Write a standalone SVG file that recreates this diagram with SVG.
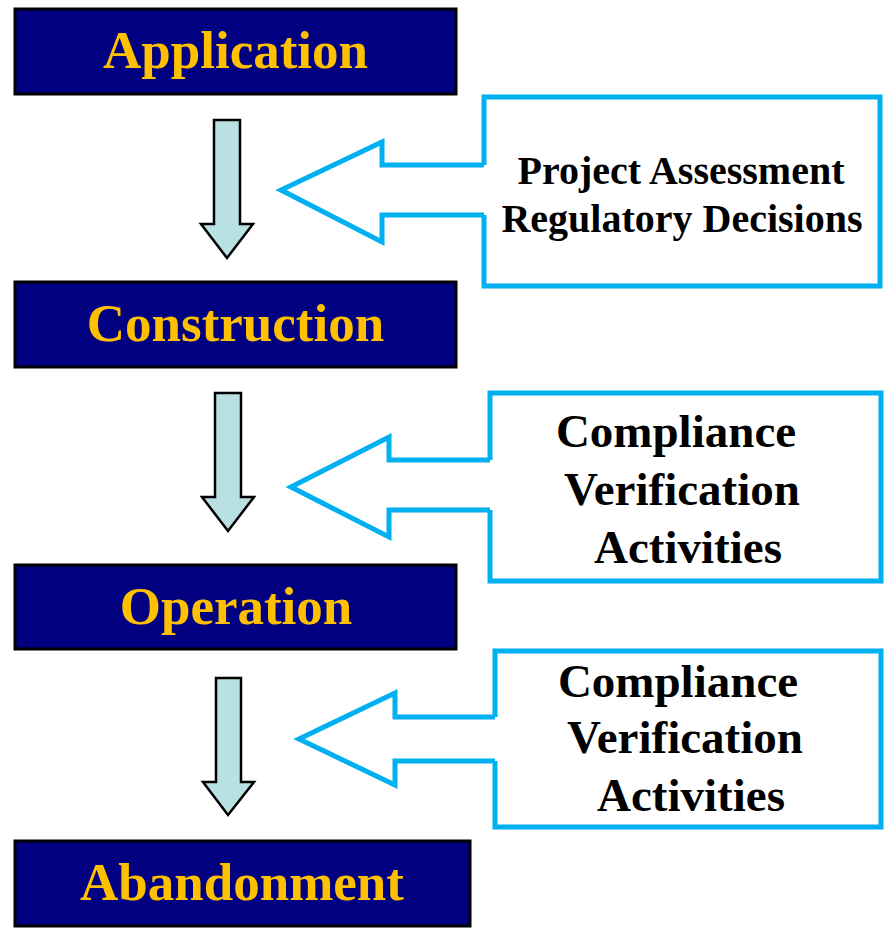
<svg xmlns="http://www.w3.org/2000/svg" width="885" height="929" viewBox="0 0 885 929">
<style>
.stage{fill:#000080;stroke:#000;stroke-width:3}
.stxt{font-family:"Liberation Serif","Times New Roman",serif;font-weight:bold;font-size:53px;fill:#FFC000;text-anchor:middle}
.ibox{fill:none;stroke:#00B0F0;stroke-width:5;stroke-linejoin:miter}
.itxt{font-family:"Liberation Serif","Times New Roman",serif;font-weight:bold;fill:#000;text-anchor:middle}
.down{fill:#B9E0E3;stroke:#000;stroke-width:2.5;stroke-linejoin:miter}
.side{fill:#fff;stroke:#00B0F0;stroke-width:5;stroke-linejoin:miter}
</style>
<rect width="885" height="929" fill="#fff"/>
<g id="connectors">
  <path class="down" d="M214,120 H240 V224 H253 L227,258 L201,224 H214 Z"/>
  <path class="down" d="M215,393 H241 V497 H254 L228,531 L202,497 H215 Z"/>
  <path class="down" d="M216,678 H241 V782 H254 L228,815 L203,782 H216 Z"/>
  <path class="side" d="M484,165 H382 V142 L281,190 L382,242 V215 H484"/>
  <path class="side" d="M490,460 H389 V437 L291,487 L389,537 V510 H490"/>
  <path class="side" d="M495,717 H395 V693 L299,739 L395,785 V761 H495"/>
</g>
<g id="application">
  <rect class="stage" x="15" y="9" width="441" height="85"/>
  <text class="stxt" x="235.5" y="68">Application</text>
</g>
<g id="construction">
  <rect class="stage" x="15" y="282" width="441" height="85"/>
  <text class="stxt" x="235.5" y="341">Construction</text>
</g>
<g id="operation">
  <rect class="stage" x="15" y="565" width="441" height="84"/>
  <text class="stxt" x="236" y="624">Operation</text>
</g>
<g id="abandonment">
  <rect class="stage" x="15" y="841" width="455" height="85"/>
  <text class="stxt" x="242" y="900">Abandonment</text>
</g>
<g id="assessment">
  <path class="ibox" d="M484,165 V97 H880 V286 H484 V215"/>
  <text class="itxt" font-size="40" x="681" y="184">Project Assessment</text>
  <text class="itxt" font-size="40" x="682" y="232">Regulatory Decisions</text>
</g>
<g id="compliance1">
  <path class="ibox" d="M490,460 V393 H881 V581 H490 V510"/>
  <text class="itxt" font-size="47" x="676" y="447">Compliance</text>
  <text class="itxt" font-size="47" x="682" y="505">Verification</text>
  <text class="itxt" font-size="47" x="688" y="563">Activities</text>
</g>
<g id="compliance2">
  <path class="ibox" d="M495,717 V651 H881 V827 H495 V761"/>
  <text class="itxt" font-size="47" x="678" y="697">Compliance</text>
  <text class="itxt" font-size="47" x="685" y="753">Verification</text>
  <text class="itxt" font-size="47" x="691" y="811">Activities</text>
</g>
</svg>
